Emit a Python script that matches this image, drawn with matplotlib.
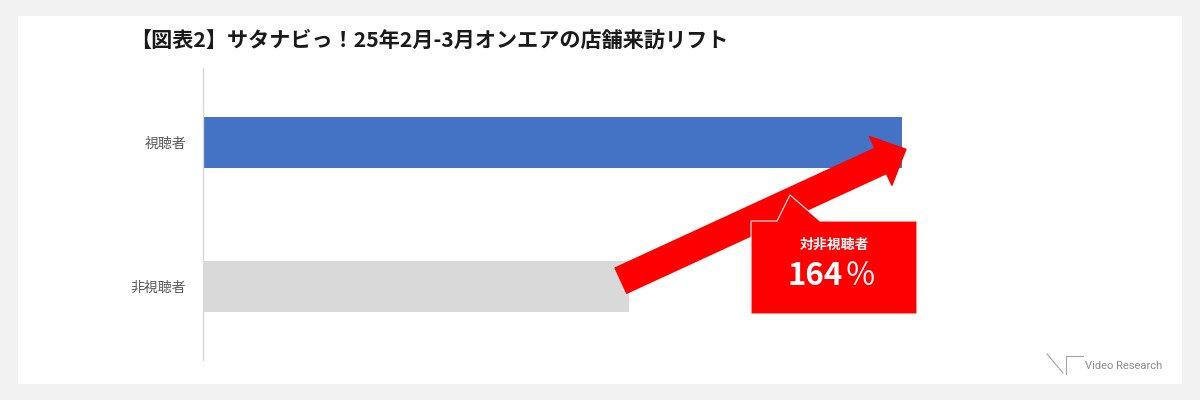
import matplotlib
matplotlib.use("Agg")
import matplotlib.pyplot as plt
from matplotlib.patches import Rectangle, Polygon
from matplotlib.lines import Line2D

plt.rcParams['font.family'] = ['Noto Sans CJK JP', 'DejaVu Sans']

title = "【図表2】サタナビっ！25年2月-3月オンエアの店舗来訪リフト"
categories = ["非視聴者", "視聴者"]
values = [100, 164]
colors = ["#D9D9D9", "#4472C4"]
lift_label = "対非視聴者"
lift_number = "164"
lift_unit = "％"

W, H = 1200, 400
fig = plt.figure(figsize=(12, 4), dpi=100, facecolor="#F2F2F2")

def fx(px):
    return px / W

def fy(py):
    return 1 - py / H

# white panel
fig.patches.append(Rectangle((fx(18), fy(384)), fx(1182) - fx(18), fy(16) - fy(384),
                             transform=fig.transFigure, facecolor="white", edgecolor="none", zorder=-5))

ax = fig.add_axes([fx(203), fy(360), 900 / W, 292 / H])
ax.set_zorder(1)
ax.set_facecolor("none")
ypos = list(range(len(categories)))
ax.barh(ypos, values, height=0.355, color=colors, zorder=2)
ax.set_xlim(0, 900 / 4.26)
ax.set_ylim(-0.51, 1.52)
ax.set_yticks(ypos)
ax.set_yticklabels(categories, fontsize=10, color="#595959")
ax.tick_params(axis="y", length=0, pad=12)
ax.set_xticks([])
for s in ["top", "right", "bottom"]:
    ax.spines[s].set_visible(False)
ax.spines["left"].set_color("#D9D9D9")
ax.spines["left"].set_linewidth(1)

# red arrow from non-viewer bar end toward viewer bar end
ax.annotate("", xy=(values[1] + 1.0, 0.955), xytext=(values[0] - 1.9, 0.042),
            arrowprops=dict(arrowstyle="simple,head_length=1.0,head_width=1.93,tail_width=1.0",
                            mutation_scale=20, color="#FF0000", shrinkA=0, shrinkB=0),
            zorder=3)

# callout box
pts = [(751, 221), (777, 221), (790, 195), (820, 221), (917, 221), (917, 314), (751, 314)]
fig.patches.append(Polygon([(fx(x), fy(y)) for x, y in pts], closed=True,
                           transform=fig.transFigure, facecolor="#FF0000",
                           edgecolor="white", linewidth=0.8, zorder=5))
fig.text(fx(834), fy(245), lift_label, ha="center", va="center", fontsize=10,
         fontweight="bold", color="white", zorder=6)
fig.text(fx(843), fy(276), lift_number, ha="right", va="center", fontsize=22.5,
         fontweight="bold", color="white", zorder=6)
fig.text(fx(845), fy(276), lift_unit, ha="left", va="center", fontsize=22.5,
         fontweight="normal", color="white", zorder=6)

# title
fig.text(fx(130), fy(40), title, ha="left", va="center", fontsize=15.2,
         fontweight="bold", color="#1a1a1a")

# logo
lc = "#A6A6A6"
for (x0, y0, x1, y1) in [(1047, 354, 1063, 373), (1066, 357, 1066, 374), (1066, 356, 1083, 356)]:
    fig.lines.append(Line2D([fx(x0), fx(x1)], [fy(y0), fy(y1)], transform=fig.transFigure,
                            color=lc, linewidth=0.8))
fig.text(fx(1085), fy(366), "Video Research", ha="left", va="center", fontsize=8,
         color="#8C8C8C", family=["Roboto", "DejaVu Sans"])

fig.savefig("out.png", dpi=100, facecolor=fig.get_facecolor())
